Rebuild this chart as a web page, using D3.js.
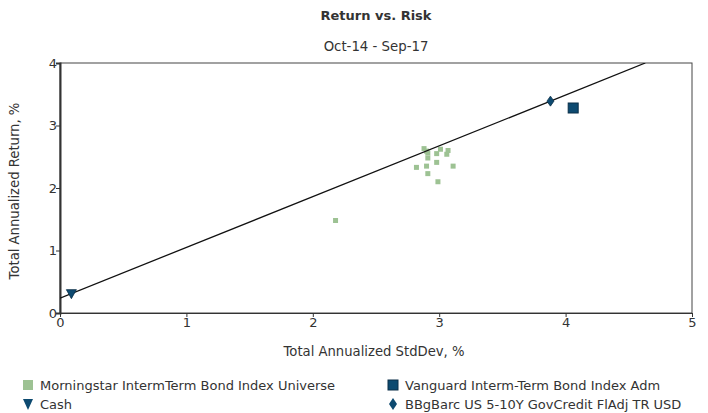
<!DOCTYPE html>
<html>
<head>
<meta charset="utf-8">
<script src="https://cdn.jsdelivr.net/npm/d3@7"></script>
<style>
  html, body { margin: 0; padding: 0; background: #fff; }
  svg text { font-family: "DejaVu Sans", Verdana, sans-serif; fill: #333; }
</style>
</head>
<body>
<svg id="chart" width="708" height="413"></svg>
<script>
// Risk (std dev, %) and return (%) per fund in the peer universe
const universeRisk   = [2.88, 2.90, 2.91, 3.01, 3.07, 2.98, 3.06, 2.91, 2.82, 2.90, 2.98, 3.11, 2.91, 2.99, 2.18, 4.06];
const universeReturn = [2.63, 2.59, 2.56, 2.62, 2.60, 2.55, 2.54, 2.48, 2.33, 2.35, 2.41, 2.35, 2.23, 2.10, 1.48, 3.24];

const fundPoint      = { name: "Vanguard Interm-Term Bond Index Adm", risk: 4.06, ret: 3.28 };
const cashPoint      = { name: "Cash", risk: 0.09, ret: 0.31 };
const benchmarkPoint = { name: "BBgBarc US 5-10Y GovCredit FlAdj TR USD", risk: 3.88, ret: 3.39 };
const universeName   = "Morningstar IntermTerm Bond Index Universe";

const xTicks = [0, 1, 2, 3, 4, 5];
const yTicks = [0, 1, 2, 3, 4];

const titleText = "Return vs. Risk";
const subtitleText = "Oct-14 - Sep-17";
const xTitle = "Total Annualized StdDev, %";
const yTitle = "Total Annualized Return, %";

const svg = d3.select("#chart");

const x = d3.scaleLinear().domain([0, 5]).range([60, 692]);
const y = d3.scaleLinear().domain([0, 4]).range([313, 63]);
const plotMidX = (x(0) + x(5)) / 2;

const navy = "#0d4a70";
const green = "#9dc293";

// titles, centred over the plot area
svg.append("text").attr("x", plotMidX).attr("y", 20).attr("text-anchor", "middle")
  .style("font-weight", "bold").style("font-size", "13px").attr("fill", "#111").text(titleText);
svg.append("text").attr("x", plotMidX).attr("y", 51).attr("text-anchor", "middle")
  .style("font-size", "13.3px").text(subtitleText);

// plot frame (top and right)
svg.append("rect").attr("x", x(0)).attr("y", y(4))
  .attr("width", x(5) - x(0)).attr("height", y(0) - y(4))
  .attr("fill", "none").attr("stroke", "#444").attr("stroke-width", 1);

// axes
const xAxis = d3.axisBottom(x).tickValues(xTicks).tickSize(4).tickFormat(d3.format("d"));
const yAxis = d3.axisLeft(y).tickValues(yTicks).tickSize(4).tickFormat(d3.format("d"));

const gx = svg.append("g").attr("transform", `translate(0,${y(0)})`).call(xAxis);
const gy = svg.append("g").attr("transform", `translate(${x(0)},0)`).call(yAxis);
[gx, gy].forEach(g => {
  g.select(".domain").attr("stroke", "#333");
  g.selectAll(".tick line").attr("stroke", "#333");
  g.selectAll(".tick text").style("font-size", "13px").attr("fill", "#333")
    .style("font-family", "'DejaVu Sans', Verdana, sans-serif");
});
gy.select(".domain").attr("stroke-width", 2);
gx.selectAll(".tick text").attr("y", 5);
gy.selectAll(".tick text").attr("x", -3);

// axis titles
svg.append("text").attr("x", plotMidX - 2).attr("y", 356).attr("text-anchor", "middle")
  .style("font-size", "13.2px").text(xTitle);
svg.append("text").attr("transform", `translate(19,${(y(0) + y(4)) / 2 + 3}) rotate(-90)`)
  .attr("text-anchor", "middle").style("font-size", "13.2px").text(yTitle);

// clip to plot area
svg.append("clipPath").attr("id", "plotclip").append("rect")
  .attr("x", x(0)).attr("y", y(4)).attr("width", x(5) - x(0)).attr("height", y(0) - y(4));

const plot = svg.append("g").attr("clip-path", "url(#plotclip)");

// universe points
const universe = universeRisk.map((r, i) => ({ risk: r, ret: universeReturn[i] }));
plot.selectAll("rect.univ").data(universe).enter().append("rect")
  .attr("class", "univ")
  .attr("x", d => x(d.risk) - 2.5).attr("y", d => y(d.ret) - 2.5)
  .attr("width", 5).attr("height", 5).attr("fill", green);

// line from cash through benchmark
const slope = (benchmarkPoint.ret - cashPoint.ret) / (benchmarkPoint.risk - cashPoint.risk);
const lineAt = r => cashPoint.ret + slope * (r - cashPoint.risk);
const rEnd = cashPoint.risk + (4 - cashPoint.ret) / slope;
plot.append("line")
  .attr("x1", x(0)).attr("y1", y(lineAt(0)))
  .attr("x2", x(rEnd)).attr("y2", y(4))
  .attr("stroke", "#111").attr("stroke-width", 1.3);

// fund (square)
plot.append("rect")
  .attr("x", x(fundPoint.risk) - 5).attr("y", y(fundPoint.ret) - 5)
  .attr("width", 10).attr("height", 10)
  .attr("fill", navy).attr("stroke", "#0a2f48").attr("stroke-width", 1);

// benchmark (diamond)
svg.append("path")
  .attr("transform", `translate(${x(benchmarkPoint.risk)},${y(benchmarkPoint.ret)})`)
  .attr("d", "M0,-5 L3.5,0 L0,5 L-3.5,0 Z").attr("fill", navy).attr("stroke", "#0a2f48").attr("stroke-width", 0.8);

// cash (down triangle)
svg.append("path")
  .attr("transform", `translate(${x(cashPoint.risk)},${y(cashPoint.ret)})`)
  .attr("d", "M-5,-4 L5,-4 L0,5 Z").attr("fill", navy).attr("stroke", "#0a2f48").attr("stroke-width", 0.8);

// legend
const lg = svg.append("g");
const row1 = 390, row2 = 409, legendFont = "13px";
lg.append("rect").attr("x", 23).attr("y", row1 - 10).attr("width", 10).attr("height", 10).attr("fill", green);
lg.append("text").attr("x", 40).attr("y", row1).style("font-size", legendFont).text(universeName);

lg.append("path").attr("transform", `translate(28,${row2 - 5})`).attr("d", "M-5,-5 L5,-5 L0,6 Z").attr("fill", navy);
lg.append("text").attr("x", 40).attr("y", row2).style("font-size", legendFont).text(cashPoint.name);

lg.append("rect").attr("x", 388).attr("y", row1 - 10).attr("width", 10).attr("height", 10)
  .attr("fill", navy).attr("stroke", "#0a2f48");
lg.append("text").attr("x", 405).attr("y", row1).style("font-size", legendFont).text(fundPoint.name);

lg.append("path").attr("transform", `translate(393,${row2 - 5})`).attr("d", "M0,-6 L4,0 L0,6 L-4,0 Z").attr("fill", navy);
lg.append("text").attr("x", 405).attr("y", row2).style("font-size", legendFont).text(benchmarkPoint.name);
</script>
</body>
</html>
